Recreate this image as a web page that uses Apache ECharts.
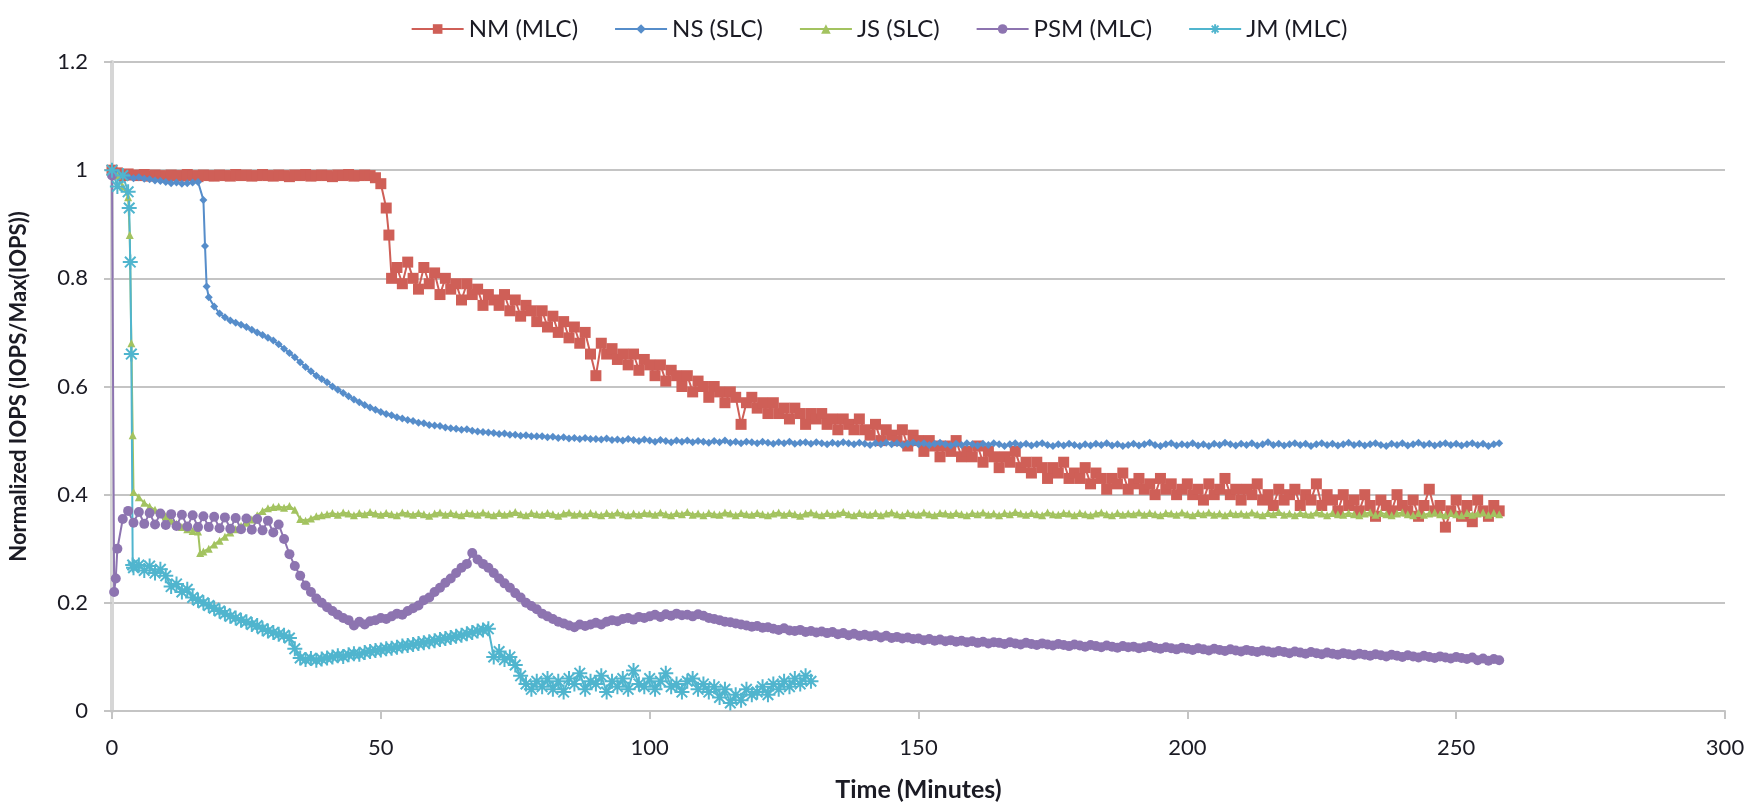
<!DOCTYPE html>
<html>
<head>
<meta charset="utf-8">
<script src="https://cdn.jsdelivr.net/npm/echarts@6/dist/echarts.min.js"></script>
<style>
html,body{margin:0;padding:0;background:#fff;}
#chart{width:1758px;height:807px;}
</style>
</head>
<body>
<div id="chart"></div>
<script>
// ---- DATA (values sampled once per minute, index = minute) ----
const seriesNames = ['NM (MLC)', 'NS (SLC)', 'JS (SLC)', 'PSM (MLC)', 'JM (MLC)'];
const xTicks = [0, 50, 100, 150, 200, 250, 300];
const yTicks = [0, 0.2, 0.4, 0.6, 0.8, 1, 1.2];

const nmValues = [
1.0,0.995,0.99,0.993,0.991,0.99,0.992,0.989,0.991,0.99,
0.988,0.991,0.99,0.989,0.992,0.99,0.988,0.991,0.99,0.989,
0.991,0.99,0.989,0.992,0.99,0.991,0.989,0.99,0.992,0.99,
0.989,0.991,0.99,0.988,0.991,0.99,0.992,0.989,0.99,0.991,
0.99,0.988,0.991,0.99,0.992,0.989,0.99,0.991,0.99,0.986,
0.975,0.93,0.80,0.82,0.79,0.83,0.80,0.78,0.82,0.79,
0.81,0.77,0.80,0.78,0.79,0.76,0.79,0.77,0.78,0.75,
0.77,0.76,0.75,0.77,0.74,0.76,0.73,0.75,0.74,0.72,
0.74,0.71,0.73,0.70,0.72,0.69,0.71,0.68,0.70,0.66,
0.62,0.68,0.66,0.67,0.65,0.66,0.64,0.66,0.63,0.65,
0.64,0.62,0.64,0.61,0.63,0.62,0.60,0.62,0.59,0.61,
0.60,0.58,0.60,0.59,0.57,0.59,0.58,0.53,0.57,0.58,
0.56,0.57,0.55,0.57,0.55,0.56,0.54,0.56,0.55,0.53,
0.55,0.54,0.55,0.53,0.54,0.52,0.54,0.53,0.52,0.54,
0.52,0.51,0.53,0.50,0.52,0.51,0.50,0.52,0.49,0.51,
0.50,0.48,0.50,0.49,0.47,0.49,0.48,0.50,0.47,0.48,
0.47,0.49,0.46,0.48,0.47,0.45,0.47,0.46,0.48,0.45,
0.46,0.44,0.46,0.45,0.43,0.45,0.44,0.46,0.43,0.44,
0.43,0.45,0.42,0.44,0.43,0.41,0.43,0.42,0.44,0.41,
0.42,0.43,0.41,0.42,0.40,0.43,0.41,0.42,0.40,0.41,
0.42,0.40,0.41,0.39,0.42,0.40,0.41,0.43,0.40,0.41,
0.39,0.41,0.40,0.42,0.39,0.40,0.38,0.41,0.39,0.40,
0.41,0.38,0.40,0.39,0.42,0.38,0.40,0.39,0.37,0.40,
0.38,0.39,0.37,0.40,0.38,0.36,0.39,0.38,0.37,0.40,
0.38,0.37,0.39,0.36,0.38,0.41,0.37,0.38,0.34,0.37,
0.39,0.36,0.38,0.35,0.39,0.37,0.36,0.38,0.37
];
const nmExtra = [[51.5, 0.88]];

const nsValues = [
1.0,0.995,0.99,0.988,0.985,0.987,0.984,0.983,0.981,0.98,
0.978,0.976,0.977,0.975,0.976,0.977,0.978,0.945,0.765,0.748,
0.735,0.728,0.722,0.718,0.714,0.71,0.705,0.70,0.695,0.69,
0.685,0.678,0.67,0.662,0.654,0.645,0.636,0.628,0.62,0.614,
0.608,0.60,0.594,0.588,0.582,0.576,0.571,0.566,0.561,0.557,
0.553,0.549,0.547,0.543,0.541,0.538,0.536,0.533,0.532,0.529,
0.528,0.527,0.524,0.523,0.522,0.52,0.521,0.518,0.517,0.516,
0.515,0.514,0.512,0.513,0.511,0.511,0.509,0.51,0.508,0.508,
0.508,0.506,0.507,0.505,0.506,0.504,0.505,0.503,0.505,0.503,
0.503,0.502,0.504,0.501,0.502,0.5,0.503,0.501,0.499,0.502,
0.5,0.498,0.501,0.499,0.497,0.5,0.498,0.5,0.497,0.499,
0.498,0.496,0.499,0.497,0.5,0.496,0.498,0.495,0.498,0.497,
0.495,0.498,0.496,0.494,0.497,0.495,0.498,0.494,0.496,0.497,
0.494,0.497,0.495,0.493,0.496,0.494,0.497,0.495,0.493,0.496,
0.494,0.492,0.495,0.493,0.496,0.493,0.495,0.492,0.494,0.496,
0.493,0.495,0.492,0.494,0.496,0.493,0.491,0.494,0.492,0.495,
0.493,0.491,0.494,0.492,0.495,0.493,0.49,0.493,0.495,0.492,
0.494,0.491,0.493,0.495,0.492,0.49,0.493,0.491,0.494,0.492,
0.49,0.493,0.491,0.494,0.492,0.495,0.491,0.493,0.49,0.492,
0.494,0.491,0.493,0.496,0.492,0.49,0.493,0.495,0.491,0.493,
0.492,0.495,0.491,0.493,0.49,0.494,0.492,0.496,0.493,0.491,
0.494,0.492,0.495,0.491,0.493,0.497,0.492,0.494,0.491,0.493,
0.495,0.492,0.494,0.49,0.493,0.495,0.492,0.494,0.491,0.493,
0.496,0.492,0.494,0.491,0.493,0.495,0.492,0.49,0.494,0.492,
0.495,0.491,0.493,0.496,0.492,0.494,0.491,0.493,0.495,0.492,
0.494,0.491,0.493,0.495,0.492,0.494,0.49,0.493,0.495
];
const nsExtra = [[17.3, 0.86], [17.6, 0.785]];

const jsValues = [
1.0,0.99,0.97,0.95,0.405,0.395,0.385,0.378,0.372,0.366,
0.36,0.352,0.346,0.34,0.336,0.333,0.332,0.295,0.30,0.308,
0.315,0.322,0.33,0.336,0.342,0.348,0.354,0.362,0.37,0.375,
0.377,0.378,0.376,0.379,0.372,0.355,0.352,0.356,0.36,0.362,
0.364,0.366,0.363,0.367,0.365,0.362,0.366,0.364,0.368,0.365,
0.363,0.366,0.364,0.362,0.367,0.365,0.363,0.366,0.364,0.361,
0.365,0.367,0.363,0.366,0.364,0.362,0.366,0.365,0.363,0.367,
0.364,0.362,0.366,0.363,0.365,0.368,0.364,0.362,0.366,0.364,
0.363,0.366,0.364,0.361,0.365,0.367,0.363,0.365,0.362,0.366,
0.364,0.362,0.366,0.363,0.367,0.364,0.362,0.365,0.363,0.366,
0.365,0.363,0.367,0.364,0.362,0.366,0.364,0.368,0.363,0.365,
0.362,0.366,0.364,0.363,0.367,0.365,0.362,0.366,0.364,0.363,
0.366,0.364,0.362,0.365,0.367,0.363,0.366,0.364,0.361,0.365,
0.367,0.364,0.362,0.366,0.363,0.365,0.368,0.364,0.362,0.366,
0.364,0.363,0.366,0.362,0.365,0.367,0.364,0.362,0.366,0.364,
0.363,0.367,0.364,0.362,0.366,0.365,0.363,0.366,0.364,0.362,
0.366,0.364,0.367,0.363,0.365,0.362,0.366,0.364,0.368,0.365,
0.363,0.366,0.364,0.362,0.367,0.364,0.363,0.366,0.365,0.362,
0.366,0.364,0.362,0.365,0.367,0.364,0.362,0.366,0.363,0.365,
0.364,0.367,0.363,0.366,0.364,0.362,0.366,0.365,0.363,0.367,
0.364,0.362,0.366,0.364,0.367,0.363,0.365,0.362,0.366,0.364,
0.365,0.363,0.367,0.364,0.362,0.366,0.364,0.368,0.363,0.365,
0.362,0.366,0.364,0.363,0.367,0.365,0.362,0.366,0.364,0.363,
0.366,0.364,0.362,0.365,0.367,0.363,0.366,0.364,0.362,0.365,
0.367,0.364,0.362,0.366,0.363,0.365,0.367,0.364,0.362,0.366,
0.364,0.362,0.366,0.363,0.365,0.367,0.363,0.366,0.364
];
const jsExtra = [[3.3, 0.88], [3.6, 0.68], [3.85, 0.51], [16.4, 0.292]];

const psmValues = [
0.99,0.30,0.355,0.37,0.348,0.368,0.346,0.366,0.345,0.365,
0.344,0.364,0.342,0.363,0.341,0.362,0.34,0.36,0.34,0.359,
0.338,0.358,0.337,0.357,0.336,0.356,0.335,0.355,0.334,0.352,
0.33,0.345,0.318,0.29,0.268,0.25,0.232,0.22,0.208,0.2,
0.192,0.185,0.178,0.172,0.168,0.158,0.165,0.16,0.166,0.168,
0.172,0.17,0.175,0.18,0.178,0.185,0.19,0.195,0.205,0.21,
0.22,0.228,0.237,0.245,0.255,0.265,0.272,0.292,0.28,0.272,
0.265,0.255,0.245,0.236,0.228,0.218,0.21,0.2,0.194,0.188,
0.18,0.175,0.17,0.165,0.162,0.158,0.155,0.16,0.157,0.16,
0.163,0.16,0.165,0.168,0.166,0.17,0.172,0.169,0.174,0.172,
0.175,0.178,0.174,0.179,0.176,0.18,0.177,0.178,0.175,0.179,
0.176,0.172,0.17,0.168,0.165,0.164,0.162,0.16,0.158,0.156,
0.157,0.154,0.155,0.152,0.15,0.153,0.149,0.148,0.15,0.146,
0.148,0.145,0.147,0.144,0.146,0.142,0.144,0.14,0.143,0.139,
0.141,0.138,0.14,0.136,0.139,0.135,0.137,0.134,0.136,0.133,
0.134,0.131,0.133,0.13,0.132,0.129,0.131,0.128,0.13,0.127,
0.129,0.126,0.128,0.125,0.127,0.126,0.124,0.127,0.125,0.123,
0.126,0.124,0.122,0.125,0.123,0.121,0.124,0.122,0.12,0.123,
0.121,0.119,0.122,0.12,0.118,0.121,0.119,0.117,0.12,0.118,
0.119,0.116,0.118,0.12,0.117,0.115,0.118,0.116,0.114,0.117,
0.115,0.113,0.116,0.114,0.112,0.115,0.113,0.111,0.114,0.112,
0.11,0.113,0.111,0.109,0.112,0.11,0.108,0.111,0.109,0.107,
0.11,0.108,0.106,0.109,0.107,0.105,0.108,0.106,0.104,0.107,
0.105,0.103,0.106,0.104,0.102,0.105,0.103,0.101,0.104,0.102,
0.1,0.103,0.101,0.099,0.102,0.1,0.098,0.101,0.099,0.097,
0.1,0.098,0.096,0.099,0.094,0.097,0.093,0.096,0.094
];
const psmExtra = [[0.4, 0.22], [0.7, 0.245]];

const jmValues = [
1.0,0.97,0.99,0.96,0.265,0.27,0.26,0.268,0.255,0.262,
0.25,0.23,0.235,0.22,0.225,0.21,0.205,0.2,0.195,0.19,
0.185,0.18,0.175,0.172,0.168,0.165,0.16,0.158,0.152,0.148,
0.145,0.142,0.14,0.135,0.115,0.098,0.095,0.097,0.094,0.096,
0.098,0.1,0.102,0.101,0.104,0.106,0.105,0.108,0.11,0.112,
0.113,0.115,0.116,0.118,0.12,0.121,0.123,0.125,0.126,0.128,
0.13,0.132,0.134,0.136,0.138,0.14,0.143,0.145,0.148,0.15,
0.152,0.1,0.11,0.095,0.1,0.085,0.065,0.05,0.04,0.055,
0.045,0.06,0.04,0.055,0.035,0.06,0.05,0.07,0.04,0.055,
0.05,0.065,0.035,0.055,0.045,0.06,0.04,0.075,0.05,0.045,
0.06,0.04,0.055,0.07,0.045,0.05,0.035,0.055,0.06,0.04,
0.05,0.035,0.045,0.025,0.04,0.015,0.03,0.02,0.04,0.03,
0.035,0.045,0.03,0.05,0.04,0.055,0.045,0.06,0.05,0.065,0.055
];
const jmExtra = [[3.2, 0.93], [3.4, 0.83], [3.6, 0.66], [3.85, 0.27]];

const colors = ['#cf5f57', '#568dca', '#a3c360', '#8d74b0', '#50b5ce'];

// ---- build [minute, value] pairs ----
function toPoints(values, extra) {
  const p = values.map((v, i) => [i, v]);
  extra.forEach(e => p.push(e));
  p.sort((a, b) => a[0] - b[0]);
  return p;
}

const asterisk = 'path://M6 0L6 12M0 6L12 6M1.76 1.76L10.24 10.24M1.76 10.24L10.24 1.76';
const FONT = 'Lato';
const TXT = '#1b1b24';

const chart = echarts.init(document.getElementById('chart'), null, {renderer: 'canvas'});

function mk(name, values, extra, color, symbol, size, extraStyle) {
  return {
    name: name,
    type: 'line',
    data: toPoints(values, extra),
    symbol: symbol,
    symbolSize: size,
    showSymbol: true,
    lineStyle: {color: color, width: 2},
    itemStyle: Object.assign({color: color, borderWidth: 0}, extraStyle || {}),
    emphasis: {disabled: true},
    animation: false
  };
}

chart.setOption({
  animation: false,
  backgroundColor: '#ffffff',
  color: colors,
  legend: {
    top: 12,
    left: 'center',
    itemWidth: 52,
    itemHeight: 12,
    itemGap: 36,
    textStyle: {fontFamily: FONT, fontSize: 24, color: TXT},
    data: seriesNames
  },
  grid: {left: 111, right: 33, top: 62, bottom: 95},
  xAxis: {
    type: 'value',
    min: xTicks[0],
    max: xTicks[xTicks.length - 1],
    interval: 50,
    name: 'Time (Minutes)',
    nameLocation: 'middle',
    nameGap: 66,
    nameTextStyle: {fontFamily: FONT, fontSize: 25, fontWeight: 'bold', color: TXT},
    axisLine: {show: true, onZero: false, lineStyle: {color: '#c4c4c4', width: 2}},
    axisTick: {show: true, length: 8, lineStyle: {color: '#c4c4c4', width: 2}},
    axisLabel: {fontFamily: FONT, fontSize: 22, color: TXT, margin: 26},
    splitLine: {show: false}
  },
  yAxis: {
    type: 'value',
    min: yTicks[0],
    max: yTicks[yTicks.length - 1],
    interval: 0.2,
    name: 'Normalized IOPS (IOPS/Max(IOPS))',
    nameLocation: 'middle',
    nameGap: 82,
    nameTextStyle: {fontFamily: FONT, fontSize: 22, fontWeight: 'bold', color: TXT},
    axisLine: {show: true, lineStyle: {color: '#d6d6d6', width: 4}},
    axisTick: {show: true, length: 8, lineStyle: {color: '#c4c4c4', width: 2}},
    axisLabel: {fontFamily: FONT, fontSize: 22, color: TXT, margin: 24,
      formatter: v => String(Math.round(v * 10) / 10)},
    splitLine: {show: true, lineStyle: {color: '#c4c4c4', width: 2}}
  },
  series: [
    mk(seriesNames[0], nmValues, nmExtra, colors[0], 'rect', 11),
    mk(seriesNames[1], nsValues, nsExtra, colors[1], 'diamond', 8),
    mk(seriesNames[2], jsValues, jsExtra, colors[2], 'triangle', 8),
    mk(seriesNames[3], psmValues, psmExtra, colors[3], 'circle', 10),
    mk(seriesNames[4], jmValues, jmExtra, colors[4], asterisk, 15,
       {borderColor: colors[4], borderWidth: 2})
  ]
});
</script>
</body>
</html>
